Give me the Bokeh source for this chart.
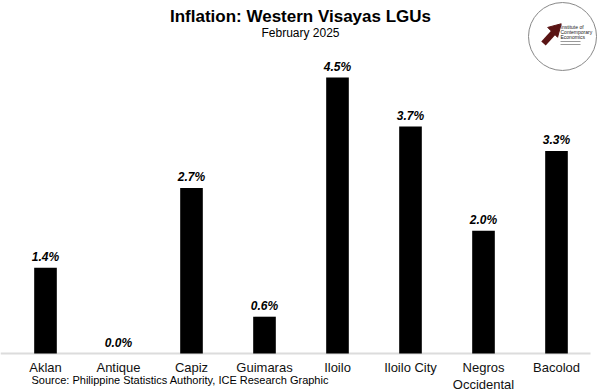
import math
from bokeh.plotting import figure
from bokeh.models import ColumnDataSource, Range1d
from bokeh.core.properties import value
from bokeh.embed import file_html
from bokeh.resources import INLINE

# ---- data ----
categories = ["Aklan", "Antique", "Capiz", "Guimaras", "Iloilo", "Iloilo City", "Negros\nOccidental", "Bacolod"]
inflation = [1.4, 0.0, 2.7, 0.6, 4.5, 3.7, 2.0, 3.3]
value_labels = [f"{v:.1f}%" for v in inflation]

title_text = "Inflation: Western Visayas LGUs"
subtitle_text = "February 2025"
source_text = "Source: Philippine Statistics Authority, ICE Research Graphic"

W, H = 600, 392
# baseline at page y=353, 4.5 at y=77 ; category centers at 45 + 73*i
PPU = (353 - 77) / 4.5
Y0, Y1 = (353 - H) / PPU, 353 / PPU
X0 = (0 - 45) / 73.0
X1 = (W - 45) / 73.0

def px(xp, yp):
    """page pixel -> data coords"""
    fx = xp / W * (X1 - X0) + X0
    fy = Y1 - yp / H * (Y1 - Y0)
    return fx, fy

p = figure(width=W, height=H, output_backend="svg", toolbar_location=None,
           x_range=Range1d(X0, X1), y_range=Range1d(Y0, Y1),
           x_axis_location=None, y_axis_location=None, min_border=0)
p.outline_line_color = None
p.background_fill_color = "white"
p.grid.grid_line_color = None

idx = list(range(len(categories)))
src = ColumnDataSource(dict(x=idx, top=inflation, lab=value_labels, cat=categories))

bx0, _ = px(0, 0)
bx1, _ = px(590, 0)
p.segment(x0=[bx0], y0=[0], x1=[bx1], y1=[0], line_color="#dcdcdc", line_width=2)
p.vbar(x="x", top="top", width=0.31, source=src, fill_color="black", line_color=None)

font = value("Liberation Sans")
p.text(x="x", y="top", text="lab", source=src, text_font=font, text_font_size="12px",
       text_font_style="bold italic", text_align="center", text_baseline="bottom",
       y_offset=-4, text_color="black")
p.text(x="x", y=0, text="cat", source=src, text_font=font, text_font_size="13px",
       text_align="center", text_baseline="top", y_offset=6, text_color="#111111",
       text_line_height=1.15)

tx, ty = px(300, 16)
p.text(x=[tx], y=[ty], text=[title_text], text_font=font, text_font_size="17px",
       text_font_style="bold", text_align="center", text_baseline="middle", text_color="black")
sx, sy = px(300, 32)
p.text(x=[sx], y=[sy], text=[subtitle_text], text_font=font, text_font_size="12px",
       text_align="center", text_baseline="middle", text_color="black")
qx, qy = px(31, 379)
p.text(x=[qx], y=[qy], text=[source_text], text_font=font, text_font_size="11px",
       text_align="left", text_baseline="middle", text_color="black")

# logo
cx, cy = px(562, 36)
p.scatter(x=[cx], y=[cy], size=68, marker="circle", fill_color="white",
          line_color="#888888", line_width=1)
ax0, ay0 = px(543, 43)
ax1, ay1 = px(553, 32)
p.segment(x0=[ax0], y0=[ay0], x1=[ax1], y1=[ay1], line_color="#5a1414", line_width=6)
hx, hy = px(555, 29)
p.scatter(x=[hx], y=[hy], marker="triangle", size=14, angle=-math.pi / 4,
          fill_color="#5a1414", line_color="#5a1414")
for t, yy in [("Institute of", 26), ("Contemporary", 31), ("Economics", 36)]:
    lx, ly = px(560, yy)
    p.text(x=[lx], y=[ly], text=[t], text_font=font, text_font_size="5px",
           text_align="left", text_baseline="middle", text_color="#222222")
for yy in [41, 44]:
    lx0, ly0 = px(560, yy)
    lx1, _ = px(580, yy)
    p.segment(x0=[lx0], y0=[ly0], x1=[lx1], y1=[ly0], line_color="#999999", line_width=1)

open("out.html", "w").write(file_html(p, INLINE))
